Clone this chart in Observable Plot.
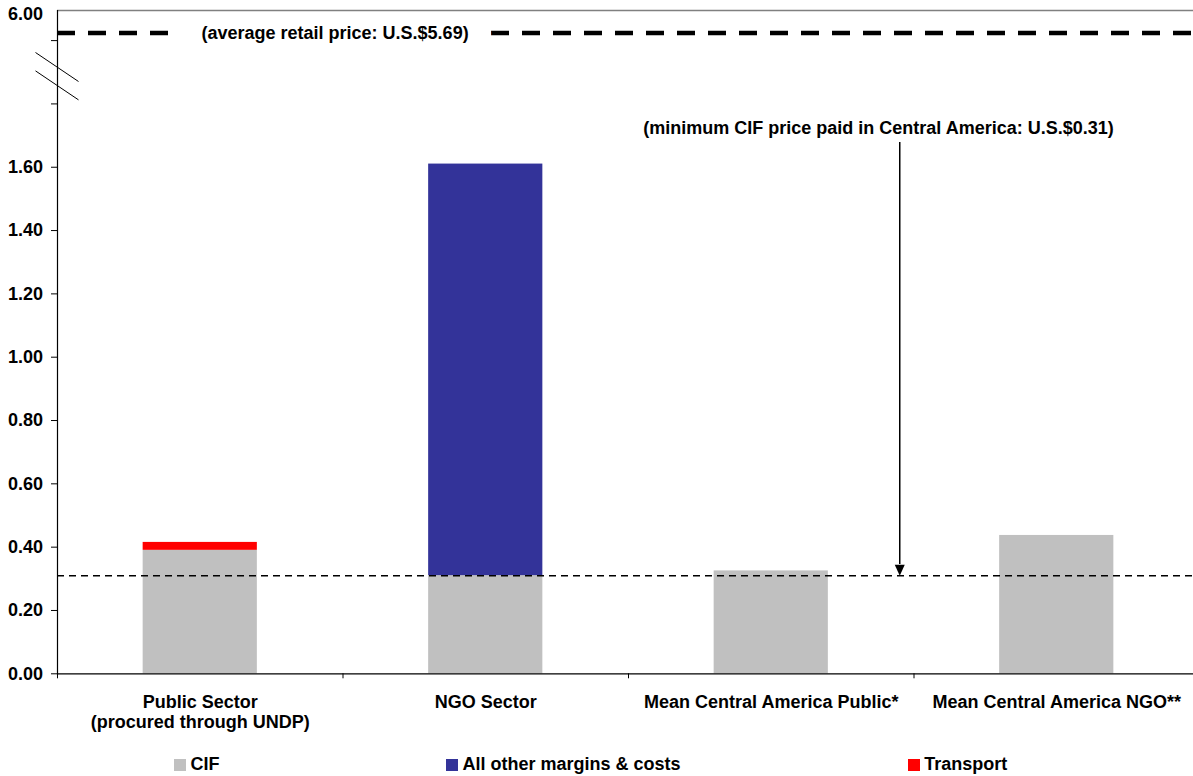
<!DOCTYPE html>
<html>
<head>
<meta charset="utf-8">
<script src="https://cdn.jsdelivr.net/npm/d3@7"></script>
<script src="https://cdn.jsdelivr.net/npm/@observablehq/plot@0.6"></script>
<style>
  html, body { margin: 0; padding: 0; background: #fff; }
  #wrap { position: relative; width: 1193px; height: 776px; overflow: hidden;
          font-family: "Liberation Sans", Arial, sans-serif; font-weight: bold; font-size: 18px; color: #000; }
  #chart { position: absolute; left: 0; top: 0; }
  #chart svg { display: block; }
  .sw { position: absolute; width: 12px; height: 11.5px; top: 759.3px; }
  .lt { position: absolute; top: 754.2px; line-height: 20px; white-space: nowrap; }
</style>
</head>
<body>
<div id="wrap"><div id="chart"></div><div id="legend"></div></div>
<script>
// ---- data ----
const categories = [
  "Public Sector\n(procured through UNDP)",
  "NGO Sector",
  "Mean Central America Public*",
  "Mean Central America NGO**"
];
const series = ["CIF", "All other margins & costs", "Transport"];
const seriesColors = ["#C0C0C0", "#333399", "#FF0000"];
const cif = [0.39, 0.31, 0.325, 0.437];
const otherMargins = [0, 1.30, 0, 0];
const transport = [0.025, 0, 0, 0];
const retailPrice = 5.69;
const minCIF = 0.31;
const retailLabel = "(average retail price: U.S.$5.69)";
const minLabel = "(minimum CIF price paid in Central America: U.S.$0.31)";
const yTicksLower = [0, 0.2, 0.4, 0.6, 0.8, 1.0, 1.2, 1.4, 1.6, 1.8, 2.0];
const yTicksLabelMax = 1.6;
const yTicksUpper = [6.0];
const breakValues = [1.915, 1.857];

// long table for stacking (order = stack order)
const rows = [];
categories.forEach((c, i) => {
  [[series[0], cif[i]], [series[1], otherMargins[i]], [series[2], transport[i]]]
    .forEach(([s, v]) => { if (v > 0) rows.push({category: c, series: s, value: v}); });
});

const fmt = d3.format(".2f");
const font = '"Liberation Sans", Arial, sans-serif';

// arrow head symbol (tip at the anchor point)
const arrowHead = {
  draw(ctx) { ctx.moveTo(-5, -11); ctx.lineTo(5, -11); ctx.lineTo(0, 0); ctx.closePath(); }
};

// axis break marks
function breakMarks(index, scales, values, dims) {
  const g = d3.create("svg:g").attr("stroke", "#000").attr("stroke-width", 1);
  const x0 = dims.marginLeft;
  for (const v of breakValues) {
    const yc = scales.y(v);
    g.append("line").attr("x1", x0 - 21.5).attr("y1", yc - 14.5)
      .attr("x2", x0 + 21.5).attr("y2", yc + 14.5);
  }
  return g.node();
}

const chart = Plot.plot({
  width: 1193,
  height: 745,
  marginLeft: 57,
  marginRight: 0,
  marginTop: 10,
  marginBottom: 71.7,
  style: { fontFamily: font, fontSize: "18px", fontWeight: "bold", color: "#000", background: "#fff" },
  x: { type: "band", domain: categories, range: [57, 1199], paddingInner: 0.6, paddingOuter: 0.3, round: false, label: null },
  y: { type: "linear", domain: [0, 2.0, 5.6, 6.06], range: [673.3, 40.1, 38, 10], label: null },
  color: { domain: series, range: seriesColors },
  marks: [
    Plot.barY(rows, { x: "category", y: "value", fill: "series" }),
    // min CIF dashed line
    Plot.ruleY([minCIF], { stroke: "#000", strokeWidth: 1.5, strokeDasharray: "7,5" }),
    // retail price line + label
    Plot.ruleY([retailPrice], { stroke: "#000", strokeWidth: 4.5, strokeDasharray: "18,13", strokeDashoffset: 0 }),
    Plot.text([retailLabel], {
      text: d => d, frameAnchor: "left", y: () => retailPrice, dx: 144,
      textAnchor: "start", lineAnchor: "middle", fill: "#000",
      stroke: "#fff", strokeWidth: 46, strokeLinejoin: "round", paintOrder: "stroke",
      fontSize: 18, fontWeight: "bold"
    }),
    // min CIF annotation + arrow
    Plot.text([minLabel], {
      text: d => d, x: () => categories[2], y: () => 1.724, dx: 107.25,
      textAnchor: "middle", lineAnchor: "middle", fill: "#000", fontSize: 18, fontWeight: "bold"
    }),
    Plot.ruleX([0], { x: () => categories[2], y1: () => 1.678, y2: () => 0.345, dx: 128.5, stroke: "#000", strokeWidth: 1.5 }),
    Plot.dot([0], { x: () => categories[2], y: () => minCIF, dx: 128.5, symbol: arrowHead, fill: "#000", r: 5 }),
    // frame lines
    Plot.ruleY([6.06], { stroke: "#808080", strokeWidth: 1.5 }),
    Plot.frame({ anchor: "left", stroke: "#000", strokeWidth: 1.2 }),
    Plot.ruleY([0], { stroke: "#000", strokeWidth: 1.2 }),
    // axes
    Plot.axisY({ ticks: yTicksLower, tickSize: 6, tickPadding: 8.5,
                 tickFormat: d => d <= yTicksLabelMax + 1e-9 ? fmt(d) : "", label: null }),
    Plot.axisY({ ticks: yTicksUpper, tickSize: 0, tickPadding: 14.5, tickFormat: fmt, label: null }),
    Plot.axisX({ tickSize: 0, tickPadding: 20, lineHeight: 1.1, label: null }),
    Plot.axisX({ tickSize: 5, tickFormat: () => "", dx: -142.75, label: null }),
    breakMarks
  ]
});
document.getElementById("chart").appendChild(chart);

// legend (HTML, below the chart)
const legendPos = [[174, 190.5], [446, 462.5], [908, 924.3]];
const legend = document.getElementById("legend");
series.forEach((s, i) => {
  const sw = document.createElement("div");
  sw.className = "sw"; sw.style.left = legendPos[i][0] + "px"; sw.style.background = seriesColors[i];
  const t = document.createElement("div");
  t.className = "lt"; t.style.left = legendPos[i][1] + "px"; t.textContent = s;
  legend.appendChild(sw); legend.appendChild(t);
});
</script>
</body>
</html>
